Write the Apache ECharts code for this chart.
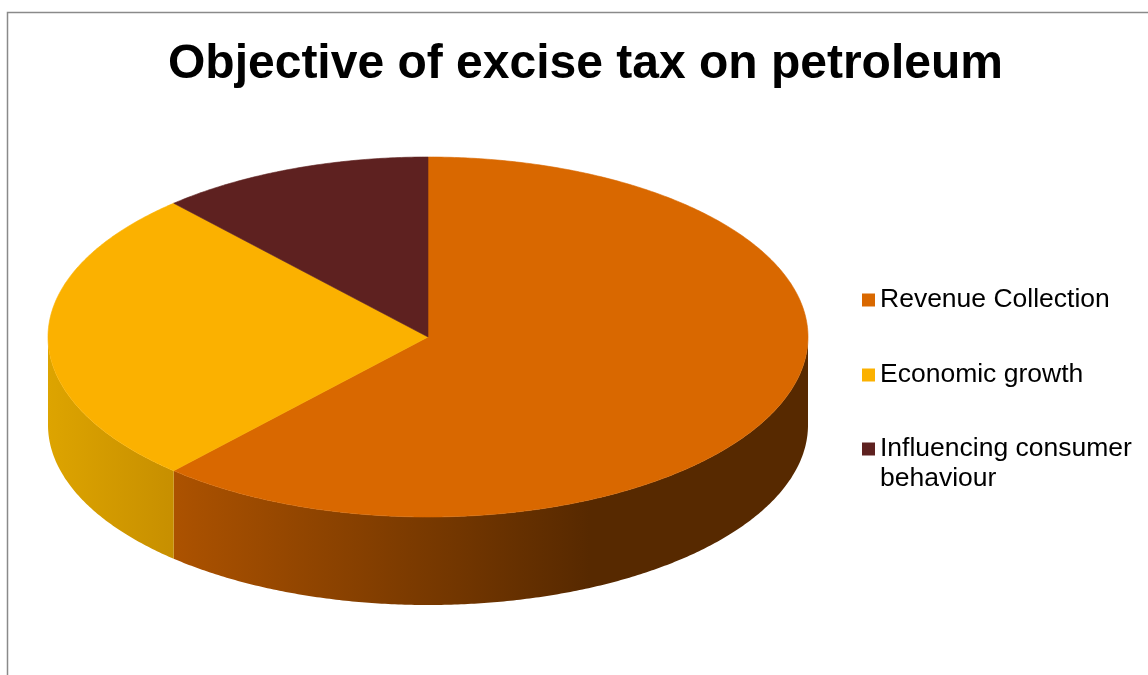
<!DOCTYPE html>
<html>
<head>
<meta charset="utf-8">
<script src="https://cdn.jsdelivr.net/npm/echarts@6/dist/echarts.min.js"></script>
<style>
  html, body { margin: 0; padding: 0; background: #ffffff; }
  #chart { width: 1148px; height: 675px; }
</style>
</head>
<body>
<div id="chart"></div>
<script>
// Survey answers: objective of the excise tax on petroleum
const categories = ['Revenue Collection', 'Economic growth', 'Influencing consumer behaviour'];
const values = [37, 16, 7];

// Styling of each slice (top face and shaded rim)
const topColors = ['#D96800', '#FBB100', '#5E2120'];
const rimColors = [['#AC5200', '#572900'], ['#DDA400', '#C68E00'], ['#4A1918', '#3A1212']];
const rimSpan = [[175, 590], [48, 180], [48, 808]];

// Geometry of the tilted disc
const PIE = { cx: 428, cy: 337, rx: 380, ry: 180, depth: 88 };

const total = values.reduce((a, b) => a + b, 0);

function ellipsePoint(theta, dy) {
  // theta measured clockwise from 12 o'clock
  return [PIE.cx + PIE.rx * Math.sin(theta), PIE.cy - PIE.ry * Math.cos(theta) + dy];
}

function arc(a0, a1, dy) {
  const pts = [];
  const steps = Math.max(2, Math.ceil(Math.abs(a1 - a0) / (Math.PI / 360)));
  for (let k = 0; k <= steps; k++) {
    pts.push(ellipsePoint(a0 + (a1 - a0) * k / steps, dy));
  }
  return pts;
}

function renderSlice(i) {
  return function (params, api) {
    const v = api.value(0);
    const before = values.slice(0, i).reduce((a, b) => a + b, 0);
    const start = before / total * Math.PI * 2;
    const end = start + v / total * Math.PI * 2;
    const children = [];

    // Visible front rim: between 3 o'clock and 9 o'clock
    const s = Math.max(start, Math.PI / 2);
    const e = Math.min(end, Math.PI * 3 / 2);
    if (e > s) {
      const upper = arc(s, e, 0);
      const lower = arc(e, s, PIE.depth);
      children.push({
        type: 'polygon',
        shape: { points: upper.concat(lower) },
        style: {
          fill: {
            type: 'linear', global: true,
            x: rimSpan[i][0], y: 0, x2: rimSpan[i][1], y2: 0,
            colorStops: [
              { offset: 0, color: rimColors[i][0] },
              { offset: 1, color: rimColors[i][1] }
            ]
          },
          stroke: null
        }
      });
    }

    // Top face
    const topPts = [[PIE.cx, PIE.cy]].concat(arc(start, end, 0));
    children.push({
      type: 'polygon',
      shape: { points: topPts },
      style: { fill: topColors[i], stroke: topColors[i], lineWidth: 0.6 }
    });

    return { type: 'group', children: children };
  };
}

const series = categories.map((name, i) => ({
  type: 'custom',
  name: name,
  coordinateSystem: 'none',
  data: [[values[i]]],
  itemStyle: { color: topColors[i] },
  renderItem: renderSlice(i),
  silent: true
}));

const legendText = { fontSize: 26.5, fontFamily: 'Liberation Sans, Arial, sans-serif', color: '#000000', lineHeight: 30 };

const option = {
  backgroundColor: '#ffffff',
  animation: false,
  title: {
    text: 'Objective of excise tax on petroleum',
    left: 168,
    top: 41,
    padding: 0,
    textStyle: {
      fontSize: 48,
      fontWeight: 'bold',
      fontFamily: 'Liberation Sans, Arial, sans-serif',
      color: '#000000'
    }
  },
  legend: [
    {
      data: [categories[0]], left: 862, top: 285, padding: 0,
      icon: 'rect', itemWidth: 13, itemHeight: 13, textStyle: legendText
    },
    {
      data: [categories[1]], left: 862, top: 360, padding: 0,
      icon: 'rect', itemWidth: 13, itemHeight: 13, textStyle: legendText
    },
    {
      // leading blank line keeps the marker level with the first line of the wrapped name
      data: [categories[2]], left: 862, top: 404, padding: 0,
      icon: 'rect', itemWidth: 13, itemHeight: 13,
      formatter: () => ' \nInfluencing consumer\nbehaviour',
      textStyle: legendText
    }
  ],
  graphic: [
    {
      type: 'rect',
      shape: { x: 7.5, y: 12.5, width: 1300, height: 800 },
      style: { fill: null, stroke: '#8a8a8a', lineWidth: 1.5 },
      silent: true,
      z: -10
    }
  ],
  series: series
};

const chart = echarts.init(document.getElementById('chart'), null, { renderer: 'canvas' });
chart.setOption(option);
</script>
</body>
</html>
